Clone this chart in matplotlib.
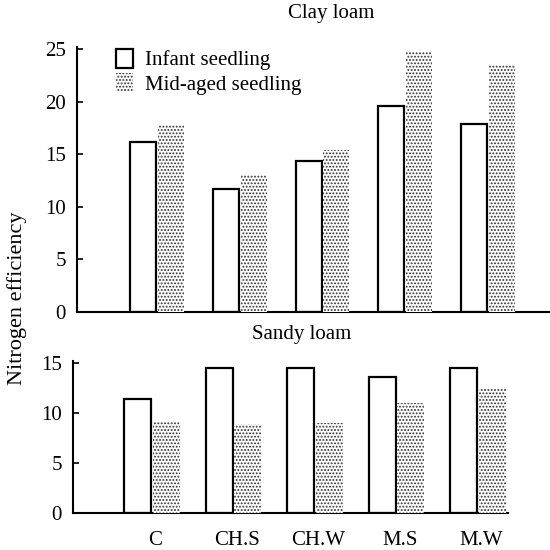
import matplotlib
matplotlib.use("Agg")
import matplotlib.pyplot as plt
from matplotlib.patches import Patch
import numpy as np

categories = ["C", "CH.S", "CH.W", "M.S", "M.W"]
clay_infant = [16.2, 11.7, 14.4, 19.6, 17.9]
clay_mid = [17.8, 13.0, 15.4, 24.8, 23.5]
sandy_infant = [11.4, 14.5, 14.5, 13.6, 14.5]
sandy_mid = [9.1, 8.9, 9.0, 11.0, 12.4]

plt.rcParams['font.family'] = ['Liberation Serif', 'DejaVu Serif']
plt.rcParams['hatch.linewidth'] = 0.9
plt.rcParams['hatch.color'] = '#333333'

fig = plt.figure(figsize=(5.5, 5.5), dpi=100)
ax1 = fig.add_axes([0.140, 0.4333, 0.86, 0.481])
ax2 = fig.add_axes([0.133, 0.0673, 0.791, 0.276])

x = np.arange(len(categories))
HATCH = '.' * 5
FS = 15

def draw(ax, infant, mid, w, ylim, yticks):
    ax.bar(x - w / 2 - 0.01, infant, width=w, facecolor='white', edgecolor='black',
           linewidth=1.6, zorder=2)
    ax.bar(x + w / 2 + 0.01, mid, width=w, facecolor='white', edgecolor='#333333',
           linewidth=0, hatch=HATCH, zorder=3)
    ax.set_ylim(*ylim)
    ax.set_yticks(yticks)
    for s in ['top', 'right']:
        ax.spines[s].set_visible(False)
    for s in ['left', 'bottom']:
        ax.spines[s].set_linewidth(1.5)
    ax.tick_params(axis='y', direction='in', length=4, width=1.2, labelsize=FS, pad=8)
    ax.tick_params(axis='x', length=0)

draw(ax1, clay_infant, clay_mid, 0.314, (0, 25.2), [0, 5, 10, 15, 20, 25])
ax1.set_xlim(-0.967, 4.75)
ax1.set_xticks([])

draw(ax2, sandy_infant, sandy_mid, 0.33, (0, 15.2), [0, 5, 10, 15])
ax2.set_xlim(-0.97, 4.37)
ax2.set_xticks(x + 0.04)
ax2.set_xticklabels(categories)
ax2.tick_params(axis='x', labelsize=FS, pad=13)

handles = [Patch(facecolor='white', edgecolor='black', linewidth=1.6, label='Infant seedling'),
           Patch(facecolor='white', edgecolor='#333333', linewidth=0, hatch=HATCH,
                 label='Mid-aged seedling')]
ax1.legend(handles=handles, loc='upper left', bbox_to_anchor=(0.065, 1.025), frameon=False,
           fontsize=FS, handlelength=0.8, handleheight=1.0, handletextpad=0.6,
           labelspacing=0.15, borderaxespad=0)

fig.text(0.602, 0.975, 'Clay loam', ha='center', va='center', fontsize=FS)
fig.text(0.549, 0.391, 'Sandy loam', ha='center', va='center', fontsize=FS)
fig.text(0.031, 0.458, 'Nitrogen efficiency', rotation=90, ha='center', va='center',
         fontsize=16)

fig.savefig('out.png', dpi=100)
